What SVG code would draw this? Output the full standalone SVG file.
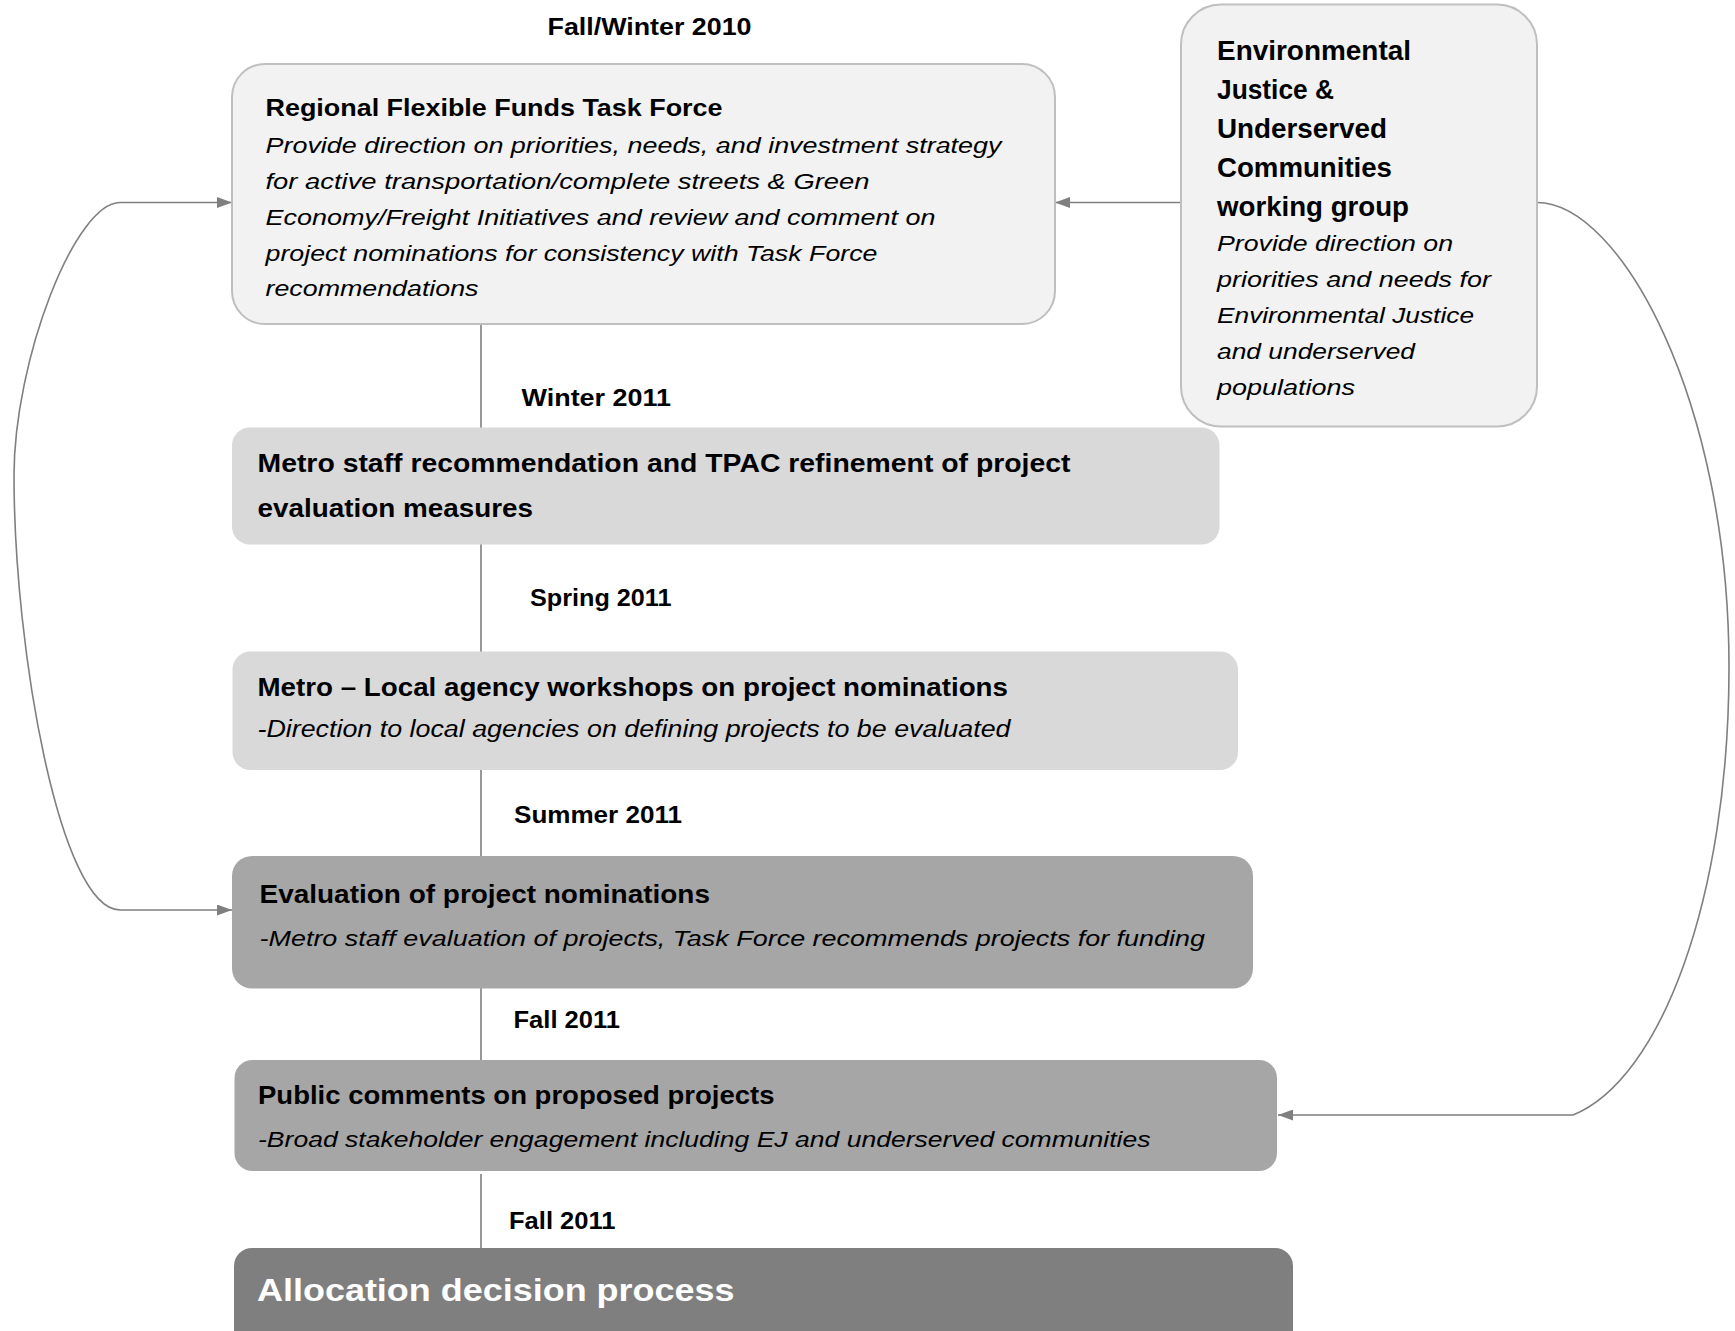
<svg xmlns="http://www.w3.org/2000/svg" width="1735" height="1331" viewBox="0 0 1735 1331">
<style>
text{font-family:"Liberation Sans",Arial,sans-serif;fill:#000}
.b{font-weight:bold}
.i{font-style:italic}
.date{font-weight:bold;font-size:23px}
.conn{fill:none;stroke:#7f7f7f;stroke-width:1.6}
.light{fill:#f2f2f2;stroke:#bfbfbf;stroke-width:2}
.mid{fill:#d9d9d9}
.dark{fill:#a6a6a6}
.darkest{fill:#7f7f7f}
</style>
<defs>
<marker id="ah" viewBox="0 0 15 11" refX="15" refY="5.5" markerWidth="15" markerHeight="11" markerUnits="userSpaceOnUse" orient="auto-start-reverse">
<path d="M0,0 L15,5.5 L0,11 z" fill="#7f7f7f"/>
</marker>
</defs>
<rect width="1735" height="1331" fill="#fff"/>
<g id="connectors">
<line class="conn" x1="481" y1="324" x2="481" y2="428"/>
<line class="conn" x1="481" y1="544" x2="481" y2="652"/>
<line class="conn" x1="481" y1="770" x2="481" y2="856"/>
<line class="conn" x1="481" y1="988" x2="481" y2="1060"/>
<line class="conn" x1="481" y1="1174" x2="481" y2="1248"/>
<path class="conn" d="M232,202.5 H120 C75,202.5 14,360 14,476 C14,650 60,910 120,910 H232" marker-start="url(#ah)" marker-end="url(#ah)"/>
<path class="conn" d="M1181,202.5 H1055" marker-end="url(#ah)"/>
<path class="conn" d="M1537,202.5 C1620,202.5 1729,400 1729,667 C1729,900 1660,1080 1573,1115 H1278" marker-end="url(#ah)"/>
</g>
<g id="dates">
<text class="date" x="547.5" y="35" textLength="204" lengthAdjust="spacingAndGlyphs">Fall/Winter 2010</text>
<text class="date" x="521.5" y="406" textLength="149.5" lengthAdjust="spacingAndGlyphs">Winter 2011</text>
<text class="date" x="530" y="605.5" textLength="141.5" lengthAdjust="spacingAndGlyphs">Spring 2011</text>
<text class="date" x="514" y="823" textLength="168" lengthAdjust="spacingAndGlyphs">Summer 2011</text>
<text class="date" x="513.5" y="1028" textLength="106.5" lengthAdjust="spacingAndGlyphs">Fall 2011</text>
<text class="date" x="509" y="1229" textLength="106.5" lengthAdjust="spacingAndGlyphs">Fall 2011</text>
</g>
<g id="task-force">
<rect class="light" x="232" y="64" width="823" height="260" rx="33"/>
<text class="b" font-size="24.5" x="265.5" y="116" textLength="457" lengthAdjust="spacingAndGlyphs">Regional Flexible Funds Task Force</text>
<g class="i" font-size="22.5">
<text x="265.5" y="152.5" textLength="736" lengthAdjust="spacingAndGlyphs">Provide direction on priorities, needs, and investment strategy</text>
<text x="265.5" y="188.5" textLength="604" lengthAdjust="spacingAndGlyphs">for active transportation/complete streets &amp; Green</text>
<text x="265.5" y="224.5" textLength="670" lengthAdjust="spacingAndGlyphs">Economy/Freight Initiatives and review and comment on</text>
<text x="265.5" y="260.5" textLength="612" lengthAdjust="spacingAndGlyphs">project nominations for consistency with Task Force</text>
<text x="265.5" y="296" textLength="213" lengthAdjust="spacingAndGlyphs">recommendations</text>
</g>
</g>
<g id="ej-group">
<rect class="light" x="1181" y="4.5" width="356" height="422" rx="40"/>
<g class="b" font-size="27">
<text x="1217" y="60" textLength="194" lengthAdjust="spacingAndGlyphs">Environmental</text>
<text x="1217" y="99" textLength="117" lengthAdjust="spacingAndGlyphs">Justice &amp;</text>
<text x="1217" y="138" textLength="170" lengthAdjust="spacingAndGlyphs">Underserved</text>
<text x="1217" y="177" textLength="175" lengthAdjust="spacingAndGlyphs">Communities</text>
<text x="1217" y="216" textLength="192" lengthAdjust="spacingAndGlyphs">working group</text>
</g>
<g class="i" font-size="22">
<text x="1217" y="251" textLength="236" lengthAdjust="spacingAndGlyphs">Provide direction on</text>
<text x="1217" y="287" textLength="274" lengthAdjust="spacingAndGlyphs">priorities and needs for</text>
<text x="1217" y="323" textLength="257" lengthAdjust="spacingAndGlyphs">Environmental Justice</text>
<text x="1217" y="359" textLength="198" lengthAdjust="spacingAndGlyphs">and underserved</text>
<text x="1217" y="395" textLength="138" lengthAdjust="spacingAndGlyphs">populations</text>
</g>
</g>
<g id="staff-recommendation">
<rect class="mid" x="232" y="427.5" width="987.5" height="117" rx="18"/>
<text class="b" font-size="25.5" x="257.5" y="472" textLength="813" lengthAdjust="spacingAndGlyphs">Metro staff recommendation and TPAC refinement of project</text>
<text class="b" font-size="25.5" x="257.5" y="517" textLength="275.5" lengthAdjust="spacingAndGlyphs">evaluation measures</text>
</g>
<g id="workshops">
<rect class="mid" x="232.5" y="651.5" width="1005.5" height="118.5" rx="18"/>
<text class="b" font-size="25" x="257.5" y="695.5" textLength="750.5" lengthAdjust="spacingAndGlyphs">Metro – Local agency workshops on project nominations</text>
<text class="i" font-size="23" x="257.5" y="736.5" textLength="753" lengthAdjust="spacingAndGlyphs">-Direction to local agencies on defining projects to be evaluated</text>
</g>
<g id="evaluation">
<rect class="dark" x="232" y="856" width="1021" height="132.5" rx="20"/>
<text class="b" font-size="25" x="259.5" y="903" textLength="450.5" lengthAdjust="spacingAndGlyphs">Evaluation of project nominations</text>
<text class="i" font-size="22.5" x="259.5" y="945.5" textLength="945.5" lengthAdjust="spacingAndGlyphs">-Metro staff evaluation of projects, Task Force recommends projects for funding</text>
</g>
<g id="public-comments">
<rect class="dark" x="234.5" y="1060" width="1042.5" height="111" rx="18"/>
<text class="b" font-size="25" x="258" y="1103.5" textLength="516.5" lengthAdjust="spacingAndGlyphs">Public comments on proposed projects</text>
<text class="i" font-size="22.5" x="258" y="1146.5" textLength="892.5" lengthAdjust="spacingAndGlyphs">-Broad stakeholder engagement including EJ and underserved communities</text>
</g>
<g id="allocation">
<rect class="darkest" x="234" y="1248" width="1059" height="120" rx="18"/>
<text class="b" font-size="31" x="257" y="1301" fill="#fff" style="fill:#fff" textLength="477.5" lengthAdjust="spacingAndGlyphs">Allocation decision process</text>
</g>
</svg>
